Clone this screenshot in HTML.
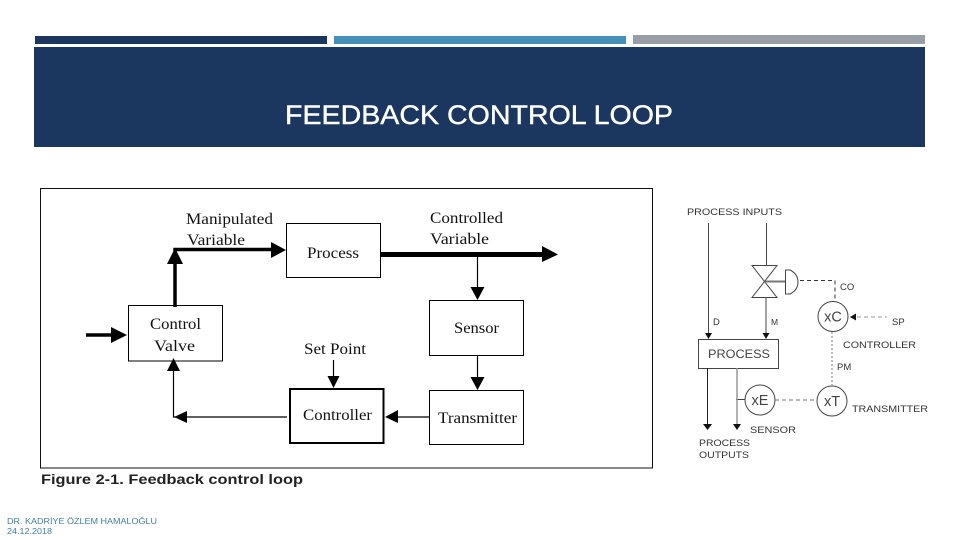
<!DOCTYPE html>
<html>
<head>
<meta charset="utf-8">
<style>
html,body{margin:0;padding:0;background:#fff}
svg{display:block}
.s{font-family:"Liberation Serif",serif;fill:#111;font-size:16px}
.a{font-family:"Liberation Sans",sans-serif;fill:#333;font-size:9.5px}
</style>
</head>
<body>
<svg width="960" height="540" viewBox="0 0 960 540" xmlns="http://www.w3.org/2000/svg">
<rect width="960" height="540" fill="#fff"/>
<rect x="35" y="36" width="292" height="8" fill="#1b365f"/>
<rect x="334" y="36" width="292" height="8" fill="#4490b8"/>
<rect x="633" y="35" width="292" height="9" fill="#989ea5"/>
<rect x="34" y="47" width="891" height="100" fill="#1b365f"/>
<text x="285" y="124" font-family="Liberation Sans,sans-serif" font-size="27" fill="#fff" stroke="#fff" stroke-width="0.400" textLength="388" lengthAdjust="spacingAndGlyphs">FEEDBACK CONTROL LOOP</text>

<rect x="40.500" y="188.500" width="612" height="279.500" fill="#fff" stroke="#111" stroke-width="1"/>
<g fill="#fff" stroke="#000">
<rect x="286.500" y="223.500" width="94" height="54"/>
<rect x="128.500" y="305.500" width="94" height="55.500"/>
<rect x="429.500" y="300.500" width="94" height="55"/>
<rect x="429.500" y="390.500" width="94" height="54"/>
<rect x="290" y="389" width="93.500" height="54" stroke-width="2"/>
</g>
<g stroke="#000" fill="none">
<path d="M175 307V249.500H272" stroke-width="3.500"/>
<path d="M86 335H114" stroke-width="3.500"/>
<path d="M381 254.500H545" stroke-width="5"/>
<path d="M477.500 255V290" stroke-width="1.200"/>
<path d="M477.500 356V380" stroke-width="1.200"/>
<path d="M429 417H396" stroke-width="1.200"/>
<path d="M287 417H173.500V370" stroke-width="1.200"/>
<path d="M333.500 360V378" stroke-width="1.200"/>
</g>
<g fill="#000">
<polygon points="175,248 167,264 183,264"/>
<polygon points="286,250 271,242 271,258"/>
<polygon points="127,335 111,327 111,343"/>
<polygon points="558,254.500 542,246 542,262"/>
<polygon points="477.500,300 470.500,287 484.500,287"/>
<polygon points="477.500,390 470.500,377 484.500,377"/>
<polygon points="385,417 398,410 398,423"/>
<polygon points="173.500,358 167,371 180,371"/>
<polygon points="174,417 187,411 187,423"/>
<polygon points="333.500,388 327.500,376 339.500,376"/>
</g>
<g class="s">
<text x="186" y="224" textLength="87" lengthAdjust="spacingAndGlyphs">Manipulated</text>
<text x="187" y="245" textLength="58" lengthAdjust="spacingAndGlyphs">Variable</text>
<text x="430" y="223" textLength="73" lengthAdjust="spacingAndGlyphs">Controlled</text>
<text x="430" y="244" textLength="59" lengthAdjust="spacingAndGlyphs">Variable</text>
<text x="307" y="258" textLength="52" lengthAdjust="spacingAndGlyphs">Process</text>
<text x="150" y="329" textLength="51" lengthAdjust="spacingAndGlyphs">Control</text>
<text x="154" y="351" textLength="41" lengthAdjust="spacingAndGlyphs">Valve</text>
<text x="454" y="333" textLength="45" lengthAdjust="spacingAndGlyphs">Sensor</text>
<text x="304" y="354" textLength="62" lengthAdjust="spacingAndGlyphs">Set Point</text>
<text x="303" y="420" textLength="69" lengthAdjust="spacingAndGlyphs">Controller</text>
<text x="438" y="423" textLength="79" lengthAdjust="spacingAndGlyphs">Transmitter</text>
</g>
<text x="41" y="484" font-family="Liberation Sans,sans-serif" font-size="13.500" font-weight="bold" fill="#222" textLength="262" lengthAdjust="spacingAndGlyphs">Figure 2-1. Feedback control loop</text>

<g class="a">
<text x="687" y="215" textLength="95" lengthAdjust="spacingAndGlyphs">PROCESS INPUTS</text>
<text x="713" y="325">D</text>
<text x="771" y="325" font-size="8.500">M</text>
<text x="840" y="290">CO</text>
<text x="892" y="325">SP</text>
<text x="843" y="348" textLength="73" lengthAdjust="spacingAndGlyphs">CONTROLLER</text>
<text x="837" y="370">PM</text>
<text x="852" y="412" textLength="76" lengthAdjust="spacingAndGlyphs">TRANSMITTER</text>
<text x="750" y="433" textLength="46" lengthAdjust="spacingAndGlyphs">SENSOR</text>
<text x="699" y="446" textLength="51" lengthAdjust="spacingAndGlyphs">PROCESS</text>
<text x="699" y="458" textLength="50" lengthAdjust="spacingAndGlyphs">OUTPUTS</text>
</g>
<g stroke="#444" fill="none" stroke-width="1">
<path d="M708.500 223V335"/>
<path d="M766.500 223V265"/>
<path d="M766 298V335"/>
<path d="M752 265.500H777L752 297.500H777Z"/>
<path d="M785.500 270H790Q798 274 798 282Q798 290 790 294H785.500Z"/>
<rect x="698.500" y="339.500" width="80" height="29"/>
<circle cx="833" cy="316.500" r="15"/>
<circle cx="760" cy="400" r="15"/>
<circle cx="832" cy="401" r="15"/>
<path d="M736 399.500H745"/>
</g>
<path d="M765 281.500H785" stroke="#777" stroke-width="2" fill="none"/>
<path d="M707.500 368V424" stroke="#222" stroke-width="1" fill="none"/>
<path d="M737 368V424" stroke="#999" stroke-width="1.500" fill="none"/>
<path d="M800 280.500H835V301" stroke="#333" stroke-dasharray="4 3" fill="none"/>
<path d="M850 317H887" stroke="#999" stroke-dasharray="4 3" fill="none"/>
<path d="M775 400H817" stroke="#777" stroke-dasharray="4 3" fill="none"/>
<path d="M832 332V386" stroke="#aaa" stroke-width="1.500" stroke-dasharray="2 2" fill="none"/>
<g fill="#111">
<polygon points="708.500,339 705,333 712,333"/>
<polygon points="766,339 762.500,333 769.500,333"/>
<polygon points="707.500,430 703,424 712,424"/>
<polygon points="737,430 733,424 741,424"/>
<polygon points="850,317 856,313.500 856,320.500"/>
</g>
<g font-family="Liberation Sans,sans-serif" font-size="14.500" fill="#444" text-anchor="middle">
<text x="833" y="321.500">xC</text>
<text x="760" y="405">xE</text>
<text x="832" y="406">xT</text>
</g>
<text x="708" y="358" font-family="Liberation Sans,sans-serif" font-size="12" fill="#444" textLength="62" lengthAdjust="spacingAndGlyphs">PROCESS</text>

<text x="7" y="524" font-family="Liberation Sans,sans-serif" font-size="8" fill="#3f7f9f" textLength="150" lengthAdjust="spacingAndGlyphs">DR. KADRİYE ÖZLEM HAMALOĞLU</text>
<text x="7" y="534" font-family="Liberation Sans,sans-serif" font-size="8" fill="#3f7f9f" textLength="45" lengthAdjust="spacingAndGlyphs">24.12.2018</text>
</svg>
</body>
</html>
